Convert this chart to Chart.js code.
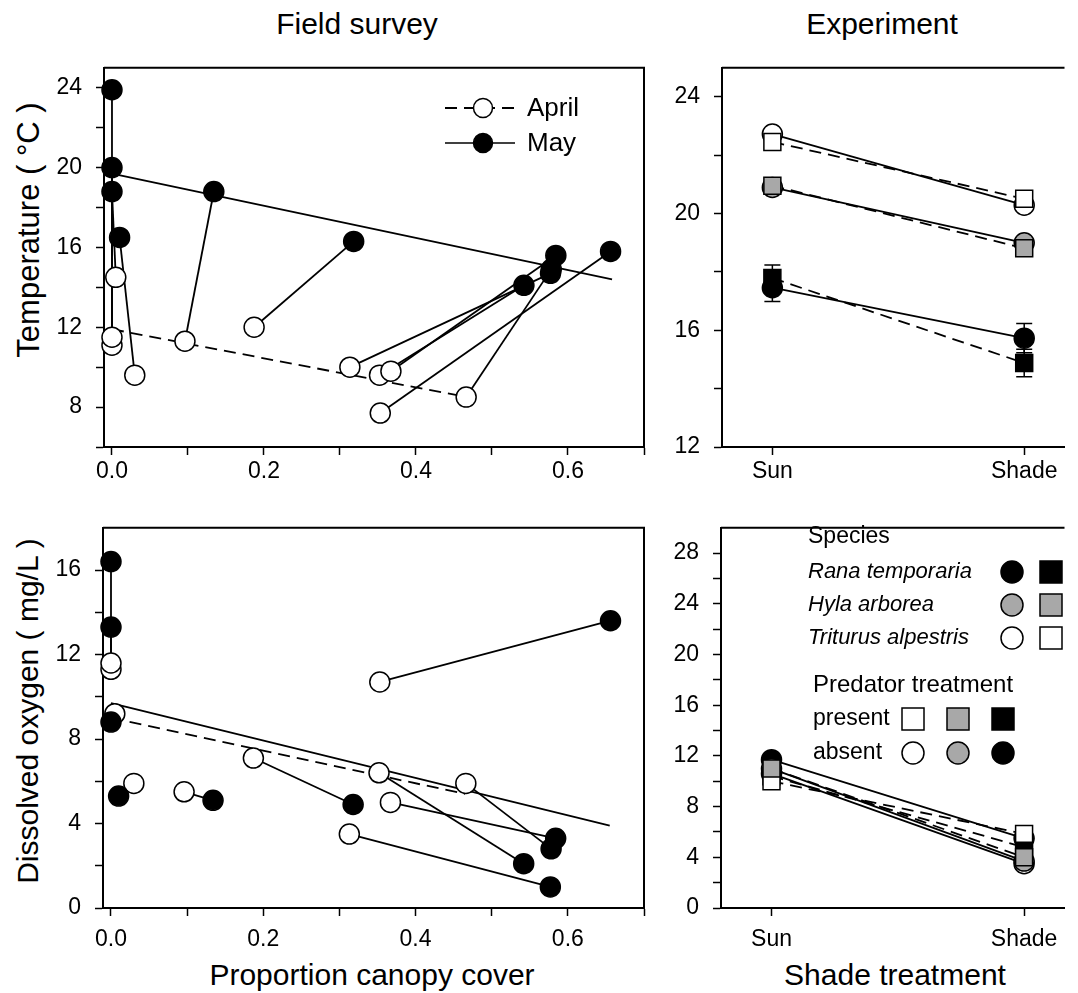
<!DOCTYPE html>
<html>
<head>
<meta charset="utf-8">
<script src="https://cdn.jsdelivr.net/npm/chart.js@4.4.1/dist/chart.umd.min.js"></script>
<style>
  html, body { margin: 0; padding: 0; background: #fff; overflow: hidden; }
  body { width: 1078px; height: 993px; position: relative; font-family: Arial, "Liberation Sans", sans-serif; color: #000; }
  canvas { position: absolute; }
  .lbl { position: absolute; white-space: nowrap; font-size: 30px; line-height: 1; transform: translate(-50%, -50%); }
  .rot { transform: translate(-50%, -50%) rotate(-90deg); }
</style>
</head>
<body>
<div class="lbl" style="left:357px; top:24px">Field survey</div>
<div class="lbl" style="left:882px; top:24px">Experiment</div>
<div class="lbl" style="left:372px; top:975px">Proportion canopy cover</div>
<div class="lbl" style="left:895px; top:975px">Shade treatment</div>
<div class="lbl rot" style="left:28px; top:230px; font-size:31px">Temperature ( °C )</div>
<div class="lbl rot" style="left:28px; top:711px">Dissolved oxygen ( mg/L )</div>

<canvas id="fieldTemp" width="660" height="450" style="left:0; top:40px"></canvas>
<canvas id="expTemp" width="428" height="450" style="left:650px; top:40px"></canvas>
<canvas id="fieldDO" width="660" height="460" style="left:0; top:500px"></canvas>
<canvas id="expDO" width="428" height="460" style="left:650px; top:500px"></canvas>

<script>
// ---- field survey: one entry per pond (April -> May) ----
const aprilCover = [0, 0, 0.005, 0.030, 0.096, 0.187, 0.313, 0.352, 0.353, 0.367, 0.466];
const mayCover   = [0, 0, 0, 0.010, 0.134, 0.318, 0.577, 0.542, 0.656, 0.584, 0.578];
const aprilTemp  = [11.1, 11.5, 14.5, 9.6, 11.3, 12.0, 10.0, 9.6, 7.7, 9.8, 8.5];
const mayTemp    = [23.9, 20.0, 18.8, 16.5, 18.8, 16.3, 14.7, 14.1, 15.8, 15.6, 14.9];
const aprilDO    = [11.3, 11.6, 9.2, 5.9, 5.5, 7.1, 3.5, 6.4, 10.7, 5.0, 5.9];
const mayDO      = [16.4, 13.3, 8.8, 5.3, 5.1, 4.9, 1.0, 2.1, 13.6, 3.3, 2.8];

// regression lines (end points)
const aprilTempFitX = [0, 0.467], aprilTempFitY = [11.9, 8.5];
const mayTempFitX   = [0, 0.658], mayTempFitY   = [19.7, 14.4];
const aprilDOFitX   = [0, 0.465], aprilDOFitY   = [9.0, 5.4];
const mayDOFitX     = [0, 0.655], mayDOFitY     = [9.7, 3.9];

// ---- experiment: Sun, Shade ----
const shadeLevels = ['Sun', 'Shade'];
const shadePos = [0, 1];
const ranaTempAbsent  = [17.46, 15.73];
const ranaTempPresent = [17.79, 14.88];
const hylaTempAbsent  = [20.90, 19.00];
const hylaTempPresent = [20.96, 18.81];
const tritTempAbsent  = [22.73, 20.29];
const tritTempPresent = [22.46, 20.51];
const ranaTempAbsentErr  = [0.47, 0.50];
const ranaTempPresentErr = [0.45, 0.47];

const ranaDOAbsent  = [11.7, 5.5];
const ranaDOPresent = [10.4, 4.8];
const hylaDOAbsent  = [11.0, 3.7];
const hylaDOPresent = [11.0, 4.0];
const tritDOAbsent  = [10.6, 3.5];
const tritDOPresent = [10.0, 5.85];

// ---- ticks ----
const coverTicks  = [0, 0.1, 0.2, 0.3, 0.4, 0.5, 0.6, 0.7];
const coverLabels = ['0.0', '', '0.2', '', '0.4', '', '0.6', ''];
const tempTicks   = [6, 8, 10, 12, 14, 16, 18, 20, 22, 24];
const tempLabels  = ['', '8', '', '12', '', '16', '', '20', '', '24'];
const doTicks     = [0, 2, 4, 6, 8, 10, 12, 14, 16];
const doLabels    = ['0', '', '4', '', '8', '', '12', '', '16'];
const expTempTicks  = [12, 14, 16, 18, 20, 22, 24];
const expTempLabels = ['12', '', '16', '', '20', '', '24'];
const expDOTicks  = [0, 2, 4, 6, 8, 10, 12, 14, 16, 18, 20, 22, 24, 26, 28];
const expDOLabels = ['0', '', '4', '', '8', '', '12', '', '16', '', '20', '', '24', '', '28'];

const species = ['Rana temporaria', 'Hyla arborea', 'Triturus alpestris'];

const FONT = 'Arial, "Liberation Sans", sans-serif';
const GREY = '#a8a8a8';
const DASH = [12, 7];
Chart.defaults.font.family = FONT;
Chart.defaults.color = '#000';

function axis(min, max, vals, labels, size, pad, horizontal) {
  return {
    type: 'linear', min, max,
    afterBuildTicks: s => { s.ticks = vals.map(v => ({ value: v })); },
    afterFit: s => { if (horizontal) s.height = size; else s.width = size; },
    ticks: { callback: (v, i) => labels[i], color: '#000', font: { size: 23 }, padding: pad, maxRotation: 0, autoSkip: false },
    grid: { drawOnChartArea: false, drawTicks: true, tickLength: 8, color: '#000', tickColor: '#000', tickWidth: 1.5 },
    border: { display: true, color: '#000', width: 2 }
  };
}

// box round the plot area (open on the right for the cut-off panels)
const framePlugin = {
  id: 'frame',
  afterDraw(chart, args, opts) {
    const { ctx, chartArea: a } = chart;
    ctx.save();
    ctx.strokeStyle = '#000';
    ctx.lineWidth = 2;
    ctx.beginPath();
    ctx.moveTo(a.left, a.top);
    ctx.lineTo(a.right, a.top);
    if (opts.closed) ctx.lineTo(a.right, a.bottom);
    ctx.stroke();
    ctx.restore();
  }
};

const errorBarPlugin = {
  id: 'errorBars',
  beforeDatasetsDraw(chart) {
    const { ctx } = chart;
    const ys = chart.scales.y;
    ctx.save();
    ctx.strokeStyle = '#000';
    ctx.lineWidth = 1.5;
    chart.data.datasets.forEach((ds, i) => {
      if (!ds.errors) return;
      chart.getDatasetMeta(i).data.forEach((pt, j) => {
        const v = ds.data[j].y, e = ds.errors[j];
        const top = ys.getPixelForValue(v + e), bot = ys.getPixelForValue(v - e);
        ctx.beginPath();
        ctx.moveTo(pt.x, top); ctx.lineTo(pt.x, bot);
        ctx.moveTo(pt.x - 8, top); ctx.lineTo(pt.x + 8, top);
        ctx.moveTo(pt.x - 8, bot); ctx.lineTo(pt.x + 8, bot);
        ctx.stroke();
      });
    });
    ctx.restore();
  }
};

function drawMark(ctx, style, x, y, fill, r) {
  ctx.beginPath();
  if (style === 'circle') ctx.arc(x, y, r, 0, Math.PI * 2);
  else ctx.rect(x - r, y - r, 2 * r, 2 * r);
  ctx.fillStyle = fill;
  ctx.fill();
  ctx.lineWidth = 1.5;
  ctx.strokeStyle = '#000';
  ctx.stroke();
}

const monthLegend = {
  id: 'monthLegend',
  afterDraw(chart) {
    const { ctx } = chart;
    ctx.save();
    ctx.strokeStyle = '#000';
    ctx.lineWidth = 1.8;
    [['April', 68, DASH, '#fff'], ['May', 103, [], '#000']].forEach(([txt, y, dash, fill]) => {
      ctx.setLineDash(dash);
      ctx.beginPath(); ctx.moveTo(445, y); ctx.lineTo(515, y); ctx.stroke();
      ctx.setLineDash([]);
      drawMark(ctx, 'circle', 483, y, fill, 9.5);
      ctx.fillStyle = '#000';
      ctx.font = '26px ' + FONT;
      ctx.textBaseline = 'middle';
      ctx.fillText(txt, 527, y + 1);
    });
    ctx.restore();
  }
};

const expLegend = {
  id: 'expLegend',
  afterDraw(chart) {
    const { ctx } = chart;
    const fills = ['#000', GREY, '#fff'];
    ctx.save();
    ctx.fillStyle = '#000';
    ctx.textBaseline = 'middle';
    ctx.font = '23px ' + FONT;
    ctx.fillText('Species', 158, 37);
    species.forEach((name, i) => {
      const y = 72 + i * 33;
      ctx.fillStyle = '#000';
      ctx.font = 'italic 22px ' + FONT;
      ctx.fillText(name, 158, y);
      drawMark(ctx, 'circle', 362, y, fills[i], 11);
      drawMark(ctx, 'rect', 401, y, fills[i], 11);
    });
    ctx.fillStyle = '#000';
    ctx.font = '24px ' + FONT;
    ctx.fillText('Predator treatment', 163, 185);
    ctx.font = '23px ' + FONT;
    ctx.fillText('present', 163, 219);
    ctx.fillText('absent', 163, 253);
    ['#fff', GREY, '#000'].forEach((f, i) => {
      const x = 263 + i * 45;
      drawMark(ctx, 'rect', x, 219, f, 11);
      drawMark(ctx, 'circle', x, 253, f, 11);
    });
    ctx.restore();
  }
};

function pts(xs, ys) { return xs.map((x, i) => ({ x, y: ys[i] })); }

function fieldDatasets(aprilY, mayY, aFitX, aFitY, mFitX, mFitY) {
  const ds = [
    { data: pts(mayCover, mayY), showLine: false, pointRadius: 10, pointBackgroundColor: '#000', pointBorderColor: '#000', pointBorderWidth: 1.5, order: 0, clip: false },
    { data: pts(aprilCover, aprilY), showLine: false, pointRadius: 10, pointBackgroundColor: '#fff', pointBorderColor: '#000', pointBorderWidth: 1.5, order: 1, clip: false },
    { data: pts(aFitX, aFitY), showLine: true, pointRadius: 0, borderColor: '#000', borderWidth: 1.8, borderDash: DASH, order: 2 },
    { data: pts(mFitX, mFitY), showLine: true, pointRadius: 0, borderColor: '#000', borderWidth: 1.8, order: 2 }
  ];
  aprilCover.forEach((x, i) => {
    ds.push({ data: [{ x, y: aprilY[i] }, { x: mayCover[i], y: mayY[i] }], showLine: true, pointRadius: 0, borderColor: '#000', borderWidth: 1.8, order: 3 });
  });
  return ds;
}

function expDatasets(series) {
  // series: [values, fill, predator present?, errors]
  const ds = [];
  series.forEach(([vals, fill, present, errs]) => {
    ds.push({ data: pts(shadePos, vals), showLine: false, pointStyle: present ? 'rect' : 'circle',
      pointRadius: present ? 12 : 10, pointBackgroundColor: fill, pointBorderColor: '#000', pointBorderWidth: 1.5,
      order: present ? 0 : 1, errors: errs, clip: false });
    ds.push({ data: pts(shadePos, vals), showLine: true, pointRadius: 0, borderColor: '#000', borderWidth: 1.8,
      borderDash: present ? DASH : [], order: 2 });
  });
  return ds;
}

function makeChart(id, datasets, x, y, pad, extra, closed) {
  return new Chart(document.getElementById(id), {
    type: 'scatter',
    data: { datasets },
    options: {
      responsive: false,
      animation: false,
      layout: { padding: pad },
      scales: { x, y },
      plugins: { legend: { display: false }, tooltip: { enabled: false }, frame: { closed } }
    },
    plugins: [framePlugin, errorBarPlugin].concat(extra)
  });
}

makeChart('fieldTemp',
  fieldDatasets(aprilTemp, mayTemp, aprilTempFitX, aprilTempFitY, mayTempFitX, mayTempFitY),
  axis(-0.0105, 0.7, coverTicks, coverLabels, 43, 3, true),
  axis(6, 25, tempTicks, tempLabels, 104, 14, false),
  { top: 18, right: 16, left: 0, bottom: 0 }, [monthLegend], true);

makeChart('fieldDO',
  fieldDatasets(aprilDO, mayDO, aprilDOFitX, aprilDOFitY, mayDOFitX, mayDOFitY),
  axis(-0.0105, 0.7, coverTicks, coverLabels, 52, 10, true),
  axis(0, 18, doTicks, doLabels, 103, 14, false),
  { top: 19, right: 16, left: 0, bottom: 0 }, [], true);

makeChart('expTemp',
  expDatasets([
    [hylaTempPresent, GREY, true], [tritTempPresent, '#fff', true], [ranaTempPresent, '#000', true, ranaTempPresentErr],
    [hylaTempAbsent, GREY, false], [tritTempAbsent, '#fff', false], [ranaTempAbsent, '#000', false, ranaTempAbsentErr]
  ]),
  axis(-0.2, 1.16, shadePos, shadeLevels, 43, 3, true),
  axis(12, 25, expTempTicks, expTempLabels, 72, 14, false),
  { top: 17, right: 0, left: 0, bottom: 0 }, [], false);

makeChart('expDO',
  expDatasets([
    [hylaDOPresent, GREY, true], [tritDOPresent, '#fff', true], [ranaDOPresent, '#000', true],
    [hylaDOAbsent, GREY, false], [tritDOAbsent, '#fff', false], [ranaDOAbsent, '#000', false]
  ]),
  axis(-0.2, 1.16, shadePos, shadeLevels, 52, 10, true),
  axis(0, 30, expDOTicks, expDOLabels, 71, 14, false),
  { top: 17, right: 0, left: 0, bottom: 0 }, [expLegend], false);
</script>
</body>
</html>
